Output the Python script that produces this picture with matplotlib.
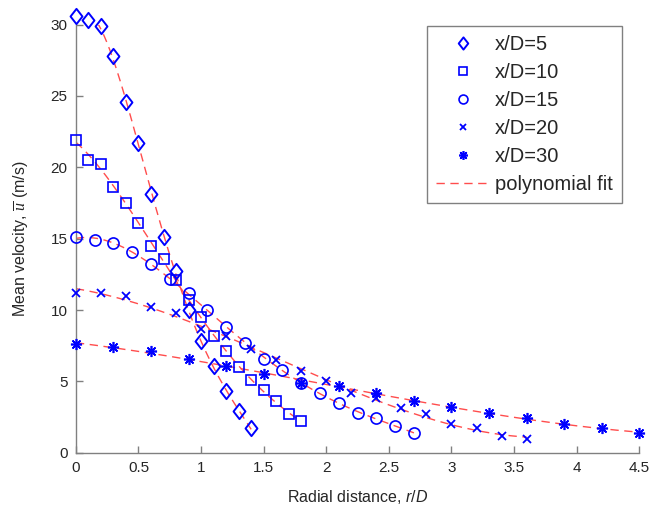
import numpy as np
import matplotlib
matplotlib.use("Agg")
import matplotlib.pyplot as plt
from matplotlib.path import Path

plt.rcParams['font.family'] = ['Liberation Sans', 'DejaVu Sans']
plt.rcParams['mathtext.fontset'] = 'custom'
plt.rcParams['mathtext.rm'] = 'Liberation Sans'
plt.rcParams['mathtext.it'] = 'Liberation Sans:italic'
plt.rcParams['mathtext.cal'] = 'Liberation Serif:italic'

# ---- data ----
r_5 = [0.0, 0.1, 0.2, 0.3, 0.4, 0.5, 0.6, 0.7, 0.8, 0.9, 1.0, 1.1, 1.2, 1.3, 1.4]
u_5 = [30.6, 30.3, 29.9, 27.8, 24.6, 21.7, 18.1, 15.1, 12.7, 10.0, 7.8, 6.1, 4.3, 2.9, 1.7]

r_10 = [0.0, 0.1, 0.2, 0.3, 0.4, 0.5, 0.6, 0.7, 0.8, 0.9, 1.0, 1.1, 1.2, 1.3, 1.4, 1.5, 1.6, 1.7, 1.8]
u_10 = [21.9, 20.5, 20.2, 18.6, 17.5, 16.1, 14.5, 13.6, 12.1, 10.7, 9.5, 8.2, 7.1, 6.0, 5.1, 4.4, 3.6, 2.7, 2.2]

r_15 = [0.0, 0.15, 0.3, 0.45, 0.6, 0.75, 0.9, 1.05, 1.2, 1.35, 1.5, 1.65, 1.8, 1.95, 2.1, 2.25, 2.4, 2.55, 2.7]
u_15 = [15.1, 14.9, 14.7, 14.1, 13.2, 12.2, 11.2, 10.0, 8.8, 7.7, 6.6, 5.8, 4.9, 4.2, 3.5, 2.8, 2.4, 1.85, 1.4]

r_20 = [0.0, 0.2, 0.4, 0.6, 0.8, 1.0, 1.2, 1.4, 1.6, 1.8, 2.0, 2.2, 2.4, 2.6, 2.8, 3.0, 3.2, 3.4, 3.6]
u_20 = [11.2, 11.2, 11.0, 10.2, 9.8, 8.7, 8.2, 7.3, 6.5, 5.7, 5.0, 4.2, 3.8, 3.1, 2.7, 2.0, 1.7, 1.2, 0.95]

r_30 = [0.0, 0.3, 0.6, 0.9, 1.2, 1.5, 1.8, 2.1, 2.4, 2.7, 3.0, 3.3, 3.6, 3.9, 4.2, 4.5]
u_30 = [7.6, 7.4, 7.1, 6.6, 6.1, 5.5, 4.9, 4.7, 4.2, 3.6, 3.2, 2.75, 2.4, 2.0, 1.7, 1.4]

labels = ['x/D=5', 'x/D=10', 'x/D=15', 'x/D=20', 'x/D=30']
fit_label = 'polynomial fit'
x_ticks = [0, 0.5, 1, 1.5, 2, 2.5, 3, 3.5, 4, 4.5]
x_tick_labels = ['0', '0.5', '1', '1.5', '2', '2.5', '3', '3.5', '4', '4.5']
y_ticks = [0, 5, 10, 15, 20, 25, 30]

series = [(r_5, u_5), (r_10, u_10), (r_15, u_15), (r_20, u_20), (r_30, u_30)]
degrees = [5, 4, 4, 3, 3]

diamond = Path([(0, 1), (0.78, 0), (0, -1), (-0.78, 0), (0, 1)],
               [Path.MOVETO, Path.LINETO, Path.LINETO, Path.LINETO, Path.CLOSEPOLY])
marker_specs = [
    dict(marker=diamond, ms=11, mfc='none', mew=1.4),
    dict(marker='s', ms=7, mfc='none', mew=1.2),
    dict(marker='o', ms=8, mfc='none', mew=1.2),
    dict(marker='x', ms=6, mew=1.3),
    dict(marker=(8, 2, 0), ms=8, mew=1.2),
]

fig = plt.figure(figsize=(6.52, 5.13), dpi=100)
ax = fig.add_axes([0.1164, 0.1175, 0.8641, 0.8345])

fit_color = '#ff4d4d'
blue = '#0000ff'

handles = []
for (r, u), deg, spec in zip(series, degrees, marker_specs):
    r = np.asarray(r); u = np.asarray(u)
    coef = np.polyfit(r, u, deg)
    rr = np.linspace(r.min(), r.max(), 200)
    fl, = ax.plot(rr, np.polyval(coef, rr), color=fit_color, lw=1.0,
                  dashes=(6, 4), zorder=2)
    h, = ax.plot(r, u, ls='none', color=blue, clip_on=False, zorder=3, **spec)
    handles.append(h)

ax.set_xlim(0, 4.5)
ax.set_ylim(0, 30)
ax.set_xticks(x_ticks)
ax.set_xticklabels(x_tick_labels)
ax.set_yticks(y_ticks)

for s in ['top', 'right']:
    ax.spines[s].set_visible(False)
for s in ['left', 'bottom']:
    ax.spines[s].set_color('#808080')
    ax.spines[s].set_linewidth(1.0)
ax.tick_params(direction='in', length=5, width=1, color='#808080',
               labelcolor='#262626', labelsize=11, pad=6)

ax.set_xlabel(r'Radial distance, $\mathit{r/D}$', fontsize=11.5,
              color='#262626', labelpad=9)
ax.set_ylabel(r'Mean velocity, $\overline{\mathcal{u}}$ (m/s)', fontsize=11.5,
              color='#262626', labelpad=15)

leg = ax.legend(handles + [fl], labels + [fit_label], loc='upper right',
                bbox_to_anchor=(0.969, 0.997), borderaxespad=0,
                fancybox=False, edgecolor='#808080', framealpha=1,
                fontsize=14.5, markerscale=0.8, handlelength=2.6,
                handletextpad=0.3, labelspacing=0.45, borderpad=0.45,
                numpoints=1)
leg.get_frame().set_linewidth(1.0)
for t in leg.get_texts():
    t.set_color('#262626')

fig.savefig('out.png', dpi=100)
